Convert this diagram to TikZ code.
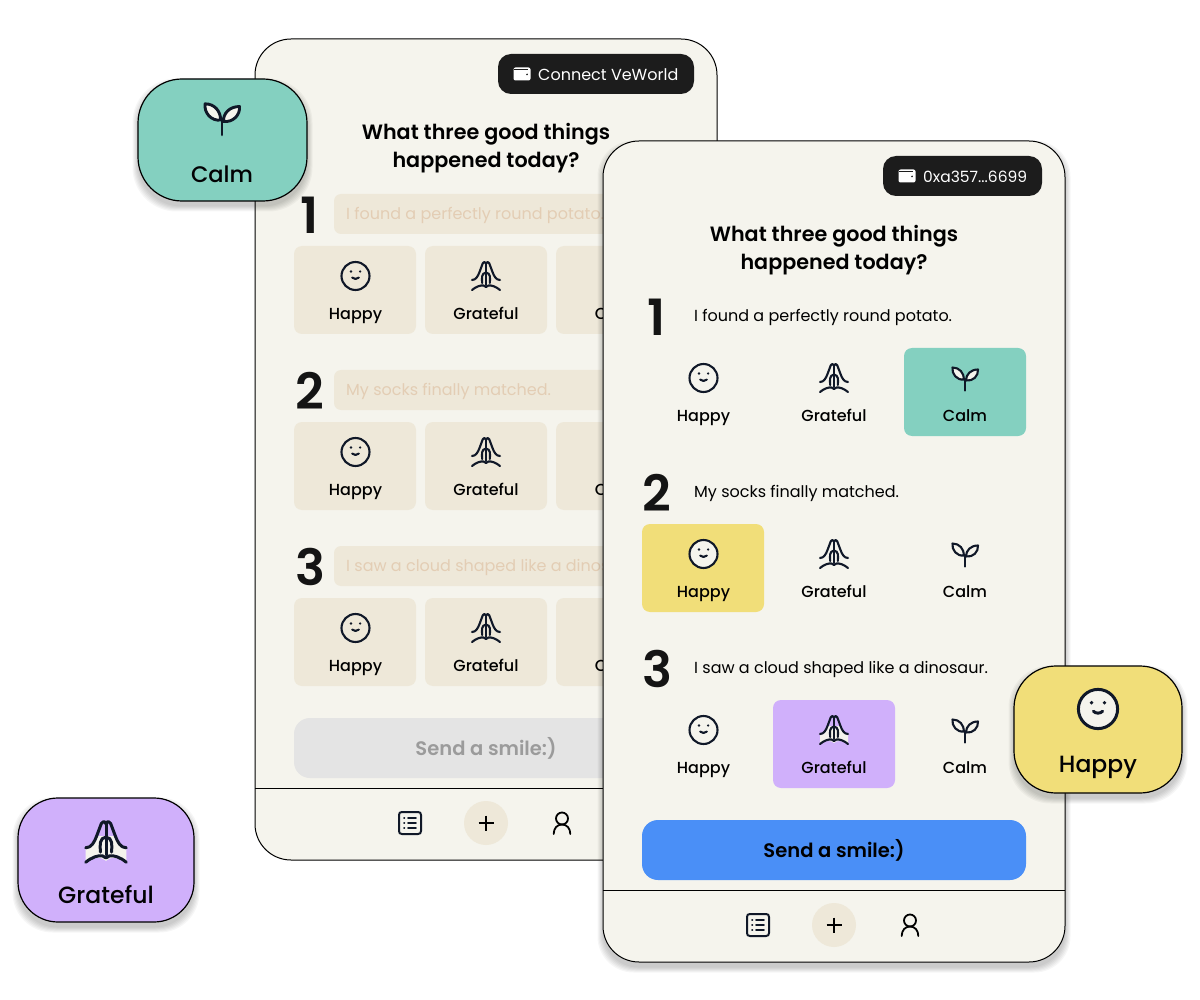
\documentclass[tikz,border=0pt]{standalone}
\usepackage{fontspec}
\setmainfont{Poppins}
\newfontfamily\medf{Poppins Medium}
\newfontfamily\semif{Poppins SemiBold}
\definecolor{paper}{HTML}{F5F4ED}
\definecolor{sand}{HTML}{EEE8D9}
\definecolor{ghost}{HTML}{E3CDB4}
\definecolor{ink}{HTML}{101828}
\definecolor{teal}{HTML}{84D0C0}
\definecolor{sun}{HTML}{F1DE79}
\definecolor{lilac}{HTML}{D0B0FB}
\definecolor{pillc}{HTML}{1C1C1C}
\definecolor{blue}{HTML}{4A8FF7}
\definecolor{greybtn}{HTML}{E4E4E4}
\definecolor{greytxt}{HTML}{9B9B9B}
\def\iconw{2.1pt}
\tikzset{
  x=1pt,y=-1pt,
  icon/.style={draw=ink,line width=\iconw,line cap=round,line join=round},
  cardlabel/.style={font=\medf\fontsize{16}{18}\selectfont,text=black,inner sep=0pt,anchor=base},
  bignum/.style={font=\semif\fontsize{50}{50}\selectfont,text=black!92,inner sep=0pt},
  entered/.style={font=\fontsize{16}{18}\selectfont,text=black,anchor=base west,inner sep=0pt},
  faded/.style={font=\fontsize{16}{18}\selectfont,text=ghost,anchor=base west,inner sep=0pt},
  titletext/.style={font=\semif\fontsize{20.7}{28}\selectfont,text=black,align=center,inner sep=0pt},
  pilltext/.style={font=\fontsize{15.5}{18}\selectfont,text=white,anchor=west,inner sep=0pt},
  badgetext/.style={font=\medf\fontsize{23.5}{28}\selectfont,text=black!90!ink,inner sep=0pt,anchor=base},
  pics/smile/.style={code={
    \draw[icon,fill=#1] (0,0) circle (14);
    \fill[ink] (-4.6,-4.5) circle (1.35) (4.6,-4.5) circle (1.35);
    \draw[icon] (-3.3,1.6) .. controls (-1.5,3.4) and (1.5,3.4) .. (3.3,1.6);
  }},
  pics/smile/.default=none,
  pics/hands/.style={code={
    \path[fill=#1] (-14,4) .. controls (-10,4) and (-8,0) .. (-6.5,-4) -- (6.5,-4) .. controls (8,0) and (10,4) .. (14,4) -- (14,14) .. controls (9,10) and (3,10) .. (0,13) .. controls (-3,10) and (-9,10) .. (-14,14) -- cycle;
    \draw[icon] (-14,4) .. controls (-10,4) and (-8,0) .. (-6.5,-4) -- (-3.2,-12.8) .. controls (-2.6,-14.4) and (-0.6,-14.6) .. (0,-12.5) .. controls (0.6,-14.6) and (2.6,-14.4) .. (3.2,-12.8) -- (6.5,-4) .. controls (8,0) and (10,4) .. (14,4);
    \draw[icon] (0,-12.5) -- (0,9);
    \draw[icon] (-3.8,7) .. controls (-4.3,2) and (-4.5,-3) .. (0,-3.4) .. controls (4.5,-3) and (4.3,2) .. (3.8,7);
    \draw[icon] (-14,14) .. controls (-10,10.5) and (-5,9) .. (-2.5,9.5) .. controls (-1.5,9.7) and (-0.6,10.4) .. (0,11) .. controls (0.6,10.4) and (1.5,9.7) .. (2.5,9.5) .. controls (5,9) and (10,10.5) .. (14,14);
  }},
  pics/hands/.default=none,
  pics/sprout/.style={code={
    \draw[icon] (0,12.5) -- (0,1);
    \draw[icon,fill=#1] (-1,1.5) .. controls (-1,-5) and (-5.5,-10.5) .. (-12.5,-10.5) .. controls (-13.5,-4) and (-8,2.5) .. (-1,1.5) -- cycle;
    \draw[icon,fill=#1] (1,2.5) .. controls (1,-3.5) and (5.5,-8.5) .. (13,-8.5) .. controls (13.5,-2) and (8,3.5) .. (1,2.5) -- cycle;
  }},
  pics/sprout/.default=none,
  pics/wallet/.style={code={
    \fill[white,rounded corners=2pt] (-8.5,-6.5) rectangle (8.5,6.5);
    \fill[pillc] (-8.5,-4.3) -- (5.5,-4.3) -- (5.5,-5.1) -- (-8.5,-5.1) -- cycle;
    \fill[pillc] (5,0.4) circle (0.9);
  }},
  pics/listicon/.style={code={
    \draw[icon,line width=2pt] (-8,-11) -- (8,-11) .. controls (10,-11) and (11,-10) .. (11,-8) -- (11,8) .. controls (11,10) and (10,11) .. (8,11) -- (-8,11) .. controls (-10,11) and (-11,10) .. (-11,8) -- (-11,-8) .. controls (-11,-10) and (-10,-11) .. (-8,-11) -- cycle;
    \draw[icon,line width=1.7pt] (-2,-5) -- (6,-5) (-2,0) -- (6,0) (-2,5) -- (6,5) (-6,-5) -- (-5.6,-5) (-6,0) -- (-5.6,0) (-6,5) -- (-5.6,5);
  }},
  pics/plusicon/.style={code={
    \draw[draw=black,line width=2.1pt] (-7.5,0) -- (7.5,0) (0,-7.5) -- (0,7.5);
  }},
  pics/usericon/.style={code={
    \draw[icon,draw=black,line width=1.8pt] (0,-4.5) circle (6);
    \draw[icon,draw=black,line width=1.8pt] (-8.3,11) .. controls (-8.3,5.5) and (-5,1.5) .. (0,1.5) .. controls (5,1.5) and (8.3,5.5) .. (8.3,11);
  }},
}
% soft shadow: stacked translucent shapes
\newcommand{\softshadow}[5]{% x1 y1 x2 y2 radius
  \foreach \g in {11,9,7,5,3,1}{
    \fill[black,opacity=0.035,rounded corners=#5]
      ({#1-\g*0.5},{#2+5-\g*0.5}) rectangle ({#3+\g*0.5},{#4+5+\g*0.5});
  }
}
\begin{document}
\begin{tikzpicture}
\useasboundingbox (0,0) rectangle (1200,1000);
\fill[white] (0,0) rectangle (1200,1000);

% ---------- back phone ----------
\filldraw[fill=paper,draw=black,line width=1pt,rounded corners=36] (255,39) rectangle (717,860);
\fill[pillc,rounded corners=13] (498,54) rectangle (694,94);
\pic at (522,74) {wallet};
\node[pilltext,font=\fontsize{16}{18}\selectfont] (backpill) at (538,75) {Connect VeWorld};
\node[titletext] (backtitle) at (486,148) {What three good things\\happened today?};
\foreach \n/\yy/\txt in {1/0/I found a perfectly round potato.,2/176/My socks finally matched.,3/352/I saw a cloud shaped like a dinosaur.}{
  \fill[sand,rounded corners=7] (334,194+\yy) rectangle (640,234+\yy);
  \node[faded] (backtext\n) at (346,219.5+\yy) {\txt};
  \node[bignum] (backnum\n) at (310,215+\yy) {\n};
  \fill[sand,rounded corners=8] (294,246+\yy) rectangle (416,334+\yy);
  \fill[sand,rounded corners=8] (425,246+\yy) rectangle (547,334+\yy);
  \fill[sand,rounded corners=8] (556,246+\yy) rectangle (678,334+\yy);
  \pic at (355.5,276+\yy) {smile};
  \pic at (486,276+\yy) {hands};
  \pic at (617,276+\yy) {sprout};
  \node[cardlabel] (backh\n) at (355.5,319.5+\yy) {Happy};
  \node[cardlabel] (backg\n) at (486,319.5+\yy) {Grateful};
  \node[cardlabel] (backc\n) at (617,319.5+\yy) {Calm};
}
\fill[greybtn,rounded corners=16] (294,718) rectangle (678,778);
\node[font=\semif\fontsize{19.5}{24}\selectfont,text=greytxt,inner sep=0pt] (backsend) at (486,748) {Send a smile:)};
\coordinate (backL) at (255,788);
\coordinate (backR) at (717,788);
\draw[black,line width=1pt] (backL) -- (backR);
\pic at (410,823) {listicon};
\fill[sand] (486,823) circle (22);
\pic at (486,823) {plusicon};
\pic at (562,823) {usericon};

% ---------- calm badge ----------
\softshadow{138}{79}{307}{201}{44}
\filldraw[fill=teal,draw=black,line width=1.2pt,rounded corners=44] (138,79) rectangle (307,201);
\begingroup\def\iconw{2.9pt}
\pic[scale=1.35] at (222,118) {sprout=paper};
\endgroup
\node[badgetext,font=\medf\fontsize{22.5}{28}\selectfont] (calmbadge) at (222,182.5) {Calm};

% ---------- front phone ----------
\softshadow{603}{141}{1065}{962}{36}
\filldraw[fill=paper,draw=black,line width=1pt,rounded corners=36] (603,141) rectangle (1065,962);
\fill[pillc,rounded corners=13] (883,156) rectangle (1042,196);
\pic at (907,176) {wallet};
\node[pilltext] (frontpill) at (923,177) {0xa357...6699};
\node[titletext] (fronttitle) at (834,250) {What three good things\\happened today?};
\fill[teal,rounded corners=8] (904,348) rectangle (1026,436);
\fill[sun,rounded corners=8] (642,524) rectangle (764,612);
\fill[lilac,rounded corners=8] (773,700) rectangle (895,788);
\foreach \n/\yy/\txt/\fa/\fb/\fc in {1/0/I found a perfectly round potato./none/none/paper,2/176/My socks finally matched./paper/none/none,3/352/I saw a cloud shaped like a dinosaur./none/paper/none}{
  \node[entered] (fronttext\n) at (694,321.5+\yy) {\txt};
  \node[bignum] (frontnum\n) at (657,317+\yy) {\n};
  \pic at (703.5,378+\yy) {smile=\fa};
  \pic at (834,378+\yy) {hands=\fb};
  \pic at (965,378+\yy) {sprout=\fc};
  \node[cardlabel] (fronth\n) at (703.5,421.5+\yy) {Happy};
  \node[cardlabel] (frontg\n) at (834,421.5+\yy) {Grateful};
  \node[cardlabel] (frontc\n) at (965,421.5+\yy) {Calm};
}
\fill[blue,rounded corners=16] (642,820) rectangle (1026,880);
\node[font=\semif\fontsize{19.5}{24}\selectfont,text=black,inner sep=0pt] (frontsend) at (834,850) {Send a smile:)};
\coordinate (frontL) at (603,890);
\coordinate (frontR) at (1065,890);
\draw[black,line width=1pt] (frontL) -- (frontR);
\pic at (758,925) {listicon};
\fill[sand] (834,925) circle (22);
\pic at (834,925) {plusicon};
\pic at (910,925) {usericon};

% ---------- happy badge ----------
\softshadow{1014}{666}{1182}{793}{42}
\filldraw[fill=sun,draw=black,line width=1.2pt,rounded corners=42] (1014,666) rectangle (1182,793);
\begingroup\def\iconw{3pt}
\pic[scale=1.4] at (1098,709) {smile=paper};
\endgroup
\node[badgetext] (happybadge) at (1098,772.5) {Happy};

% ---------- grateful badge ----------
\softshadow{18}{798}{194}{922}{40}
\filldraw[fill=lilac,draw=black,line width=1.2pt,rounded corners=40] (18,798) rectangle (194,922);
\begingroup\def\iconw{3pt}
\pic[scale=1.45] at (106,842) {hands=paper};
\endgroup
\node[badgetext] (gratefulbadge) at (106,903.5) {Grateful};
\end{tikzpicture}
\end{document}
